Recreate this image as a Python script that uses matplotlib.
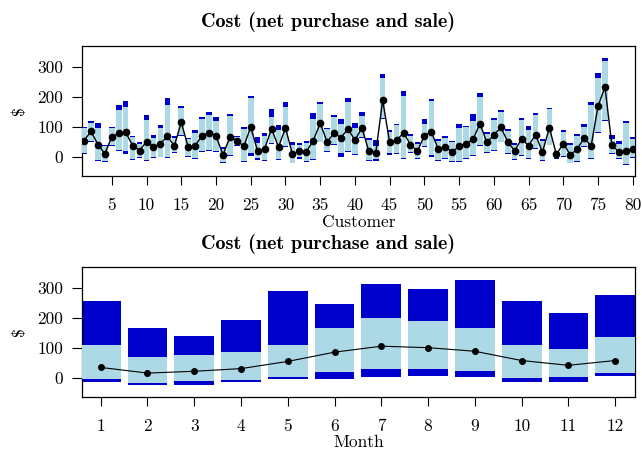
import matplotlib
matplotlib.use("Agg")
import matplotlib.pyplot as plt
import numpy as np

plt.rcParams['axes.unicode_minus'] = False
plt.rcParams['font.family'] = ['cmr10', 'DejaVu Serif']

# ---- Customer data (top panel) ----
customers = list(range(1, 81))
cust_max = [99, 117, 111, 40, 97, 173, 185, 68, 50, 138, 71, 104, 197, 70, 170, 63, 90, 131, 149, 132,
            31, 141, 70, 99, 202, 64, 79, 157, 106, 182, 47, 44, 51, 144, 183, 96, 139, 124, 195, 113,
            147, 61, 55, 277, 89, 107, 219, 75, 47, 125, 192, 58, 67, 53, 107, 103, 142, 212, 81, 129,
            155, 92, 45, 128, 103, 146, 60, 163, 19, 88, 44, 76, 107, 182, 280, 328, 71, 52, 118, 66]
cust_hi = [96, 113, 95, 35, 94, 156, 166, 64, 42, 122, 62, 95, 173, 63, 163, 59, 80, 124, 139, 120,
           25, 135, 64, 92, 194, 45, 70, 132, 90, 164, 38, 37, 45, 125, 174, 92, 133, 108, 182, 95,
           136, 55, 36, 261, 83, 104, 202, 70, 41, 108, 186, 51, 61, 47, 96, 97, 119, 198, 74, 121,
           149, 85, 39, 122, 88, 137, 51, 158, 14, 83, 38, 68, 98, 172, 262, 319, 59, 41, 112, 57]
cust_lo = [13, 53, -12, -15, 39, 21, 17, -8, -3, -12, -3, 0, -3, 14, 71, 1, -5, 19, 21, 17,
           -17, 4, 37, -15, 11, -5, -12, 46, -7, 35, -20, -3, -15, -7, 50, 18, 43, 11, 19, 8,
           64, -12, -9, 127, 11, 12, -4, 14, -6, 34, 4, -12, -5, -14, -14, -4, 6, 39, 14, 21,
           50, 11, -9, 6, -4, 27, -12, 40, -4, 1, -20, -15, 35, -4, 82, 121, 12, -5, -25, -3]
cust_min = [9, 50, -15, -18, 36, 17, 7, -11, -6, -15, -6, -3, -6, 11, 68, -2, -8, 16, 18, 14,
            -20, 1, 34, -18, 3, -11, -15, 43, -10, 32, -23, -9, -18, -10, 47, 15, 40, 0, 16, 5,
            61, -15, -15, 124, 5, 9, -7, 11, -9, 31, 0, -15, -8, -17, -17, -7, 3, 36, 11, 18,
            47, 8, -12, 3, -7, 24, -15, 37, -7, -2, -23, -18, 32, -7, 79, 118, 7, -8, -28, -6]
cust_net = [53, 84, 40, 9, 66, 77, 81, 36, 20, 50, 32, 43, 67, 36, 114, 31, 36, 70, 80, 69,
            6, 64, 53, 34, 98, 18, 26, 93, 31, 96, 8, 18, 16, 53, 111, 49, 78, 63, 93, 54,
            96, 18, 12, 188, 47, 54, 79, 40, 18, 70, 82, 25, 33, 14, 36, 43, 57, 110, 47, 72,
            97, 50, 19, 59, 36, 73, 15, 96, 7, 43, 6, 24, 63, 34, 168, 232, 37, 16, 20, 25]
cust_ticks = list(range(5, 81, 5))

# ---- Month data (bottom panel) ----
months = list(range(1, 13))
mon_max = [256, 167, 138, 194, 289, 247, 314, 296, 325, 255, 215, 275]
mon_hi = [109, 68, 76, 86, 109, 165, 200, 190, 165, 110, 97, 135]
mon_lo = [-5, -17, -13, -8, 2, 18, 28, 28, 23, -2, 3, 14]
mon_min = [-15, -25, -25, -15, -6, -5, 1, 6, 2, -16, -16, 4]
mon_net = [34, 15, 21, 30, 54, 85, 105, 100, 88, 57, 41, 57]

DARK = '#0000CD'
LIGHT = '#ADD8E6'

fig = plt.figure(figsize=(6.42, 4.49), dpi=100)
ax1 = fig.add_axes([0.1273, 0.6087, 0.8623, 0.2889])
ax2 = fig.add_axes([0.1273, 0.1165, 0.8623, 0.2882])


def draw(ax, x, vmax, vhi, vlo, vmin, vnet, width, ms, lw):
    x = np.asarray(x)
    vmax, vhi, vlo, vmin = map(np.asarray, (vmax, vhi, vlo, vmin))
    ax.bar(x, vmax - vmin, bottom=vmin, width=width, color=DARK,
           linewidth=0, zorder=2)
    ax.bar(x, vhi - vlo, bottom=vlo, width=width, color=LIGHT,
           linewidth=0, zorder=3)
    ax.plot(x, vnet, color='black', lw=lw, marker='o', ms=ms, zorder=4)


draw(ax1, customers, cust_max, cust_hi, cust_lo, cust_min, cust_net, 0.8, 4.5, 1.0)
draw(ax2, months, mon_max, mon_hi, mon_lo, mon_min, mon_net, 0.85, 4.0, 0.8)

for ax in (ax1, ax2):
    ax.set_ylim(-64, 369)
    ax.set_yticks([0, 100, 200, 300])
    ax.tick_params(axis='y', direction='out', length=7, width=0.8,
                   labelsize=12.5, pad=6.5)
    ax.tick_params(axis='x', direction='out', length=6.5, width=0.8,
                   labelsize=12.5, pad=9)
    for s in ax.spines.values():
        s.set_linewidth(0.9)
    ax.set_ylabel(r'\$', fontsize=12.5, labelpad=7.5)
    ax.set_title('Cost (net purchase and sale)', family=['cmb10', 'DejaVu Serif'],
                 fontsize=14.5, pad=13.5, x=0.445)

ax1.set_xlim(0.67, 80.37)
ax1.set_xticks(cust_ticks)
ax1.set_xlabel('Customer', fontsize=12.5, labelpad=1.5)

ax2.set_xlim(0.595, 12.43)
ax2.set_xticks(months)
ax2.set_xlabel('Month', fontsize=12.5, labelpad=1)

fig.savefig('out.png', dpi=100)
